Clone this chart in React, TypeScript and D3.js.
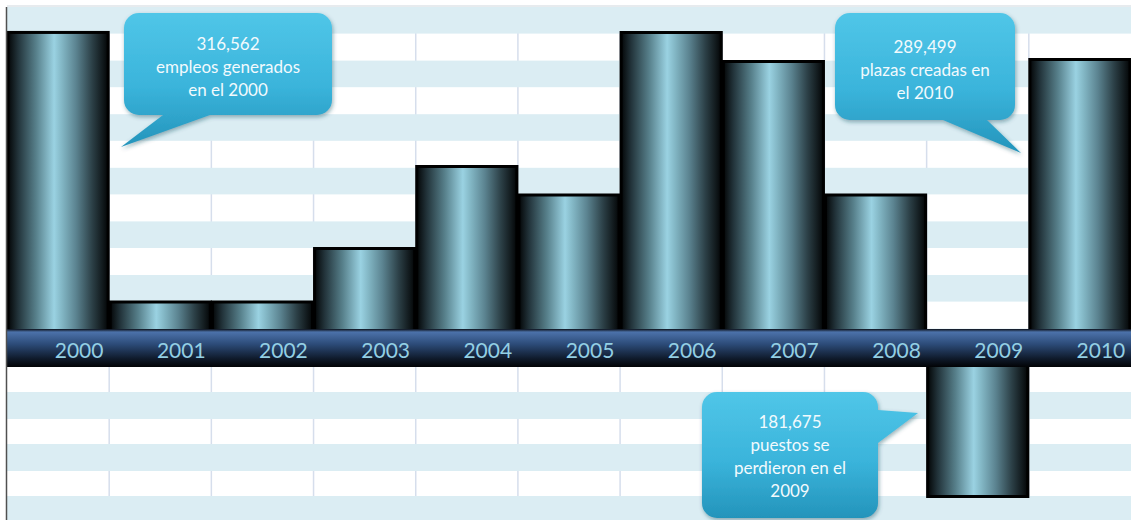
import React from "react";
import * as d3 from "d3";

const years = ["2000", "2001", "2002", "2003", "2004", "2005", "2006", "2007", "2008", "2009", "2010"];
const jobs = [316562, 47000, 47000, 100500, 182500, 154000, 316500, 287500, 154000, -147500, 289499];

const callout2000 = ["316,562", "empleos generados", "en el 2000"];
const callout2010 = ["289,499", "plazas creadas en", "el 2010"];
const callout2009 = ["181,675", "puestos se", "perdieron en el", "2009"];

const W = 1131;
const H = 520;
const LEFT = 7;
const TOP = 7;

type Tail = { side: "bottom" | "right"; a: number; b: number; tx: number; ty: number };

function calloutPath(x: number, y: number, w: number, h: number, r: number, t: Tail) {
  const p = d3.path();
  p.moveTo(x + r, y);
  p.lineTo(x + w - r, y);
  p.arcTo(x + w, y, x + w, y + r, r);
  if (t.side === "right") {
    p.lineTo(x + w, t.a);
    p.lineTo(t.tx, t.ty);
    p.lineTo(x + w, t.b);
  }
  p.lineTo(x + w, y + h - r);
  p.arcTo(x + w, y + h, x + w - r, y + h, r);
  if (t.side === "bottom") {
    p.lineTo(t.b, y + h);
    p.lineTo(t.tx, t.ty);
    p.lineTo(t.a, y + h);
  }
  p.lineTo(x + r, y + h);
  p.arcTo(x, y + h, x, y + h - r, r);
  p.lineTo(x, y + r);
  p.arcTo(x, y, x + r, y, r);
  p.closePath();
  return p.toString();
}

const callouts = [
  { lines: callout2000, x: 124, y: 13, w: 208, h: 102, base: 50, tail: { side: "bottom", a: 163, b: 210, tx: 121, ty: 147 } as Tail },
  { lines: callout2010, x: 835, y: 13, w: 180, h: 107, base: 53, tail: { side: "bottom", a: 943, b: 987, tx: 1021, ty: 153 } as Tail },
  { lines: callout2009, x: 702, y: 392, w: 176, h: 126, base: 428, tail: { side: "right", a: 410, b: 443, tx: 918, ty: 413 } as Tail },
];

export default function App() {
  const x = d3.scaleBand<string>().domain(years).range([LEFT, W]).padding(0);
  const y = d3.scaleLinear().domain([-171000, 349000]).range([H, 0]);
  const y0 = y(0);
  const bandTop = 329;
  const bandBottom = 367;

  const topStripes: number[] = [];
  for (let s = TOP; s < bandTop; s += 53.6) topStripes.push(s);
  const botStripes: number[] = [];
  for (let s = 392; s < H; s += 52) botStripes.push(s);

  return (
    <svg
      width={W}
      height={H}
      style={{ position: "absolute", left: 0, top: 0, display: "block" }}
      fontFamily="Lato, 'Open Sans', sans-serif"
    >
      <defs>
        <linearGradient id="barGrad" x1="0" x2="1" y1="0" y2="0">
          <stop offset="0" stopColor="#030506" />
          <stop offset="0.1" stopColor="#22333a" />
          <stop offset="0.28" stopColor="#57808b" />
          <stop offset="0.46" stopColor="#9ad2e2" />
          <stop offset="0.54" stopColor="#82b6c4" />
          <stop offset="0.68" stopColor="#5b8390" />
          <stop offset="0.84" stopColor="#2c4047" />
          <stop offset="1" stopColor="#030506" />
        </linearGradient>
        <linearGradient id="axisGrad" x1="0" x2="0" y1="0" y2="1">
          <stop offset="0" stopColor="#0c1018" />
          <stop offset="0.08" stopColor="#4c72aa" />
          <stop offset="0.4" stopColor="#2c4b78" />
          <stop offset="0.78" stopColor="#0f1a2b" />
          <stop offset="1" stopColor="#020305" />
        </linearGradient>
        <linearGradient id="calloutGrad" x1="0" x2="0" y1="0" y2="1">
          <stop offset="0" stopColor="#50c6e8" />
          <stop offset="0.55" stopColor="#3ab4db" />
          <stop offset="1" stopColor="#2494bb" />
        </linearGradient>
        <filter id="shadow" x="-10%" y="-10%" width="130%" height="130%">
          <feDropShadow dx="1" dy="2" stdDeviation="2" floodColor="#1b4d5e" floodOpacity="0.45" />
        </filter>
      </defs>

      <rect x={0} y={0} width={W} height={H} fill="#ffffff" />
      <line x1={LEFT} x2={W} y1={6} y2={6} stroke="#cfd7dd" strokeWidth={1.2} />

      {years.slice(1).map((yr) => (
        <line key={"v" + yr} x1={x(yr)!} x2={x(yr)!} y1={TOP} y2={H} stroke="#d6deec" strokeWidth={1.5} />
      ))}

      {topStripes.map((s, i) => (
        <rect key={"ts" + i} x={LEFT} y={s} width={W - LEFT} height={Math.min(26.6, bandTop - s)} fill="#dbedf3" />
      ))}
      {botStripes.map((s, i) => (
        <rect key={"bs" + i} x={LEFT} y={s} width={W - LEFT} height={Math.min(27, H - s)} fill="#dbedf3" />
      ))}

      {years.map((yr, i) => {
        const v = jobs[i];
        const top = Math.min(y(v), y0);
        const h = Math.abs(y(v) - y0);
        return (
          <rect
            key={"b" + yr}
            x={x(yr)! + 1}
            y={top}
            width={x.bandwidth() - 2}
            height={h}
            fill="url(#barGrad)"
            stroke="#000"
            strokeWidth={3}
          />
        );
      })}

      <rect x={LEFT} y={bandTop} width={W - LEFT} height={bandBottom - bandTop} fill="url(#axisGrad)" />
      {years.map((yr) => (
        <text
          key={"l" + yr}
          x={x(yr)! + x.bandwidth() / 2 + 21}
          y={358}
          textAnchor="middle"
          fontSize={21}
          fill="#93cfe4"
        >
          {yr}
        </text>
      ))}

      <line x1={6.5} x2={6.5} y1={TOP} y2={H} stroke="#505050" strokeWidth={1.5} />

      {callouts.map((c, i) => (
        <g key={"c" + i}>
          <path
            d={calloutPath(c.x, c.y, c.w, c.h, 15, c.tail)}
            fill="url(#calloutGrad)"
            filter="url(#shadow)"
          />
          {c.lines.map((ln, j) => (
            <text
              key={j}
              x={c.x + c.w / 2}
              y={c.base + j * 23}
              textAnchor="middle"
              fontSize={17}
              fill="#f2fafd"
            >
              {ln}
            </text>
          ))}
        </g>
      ))}
    </svg>
  );
}
